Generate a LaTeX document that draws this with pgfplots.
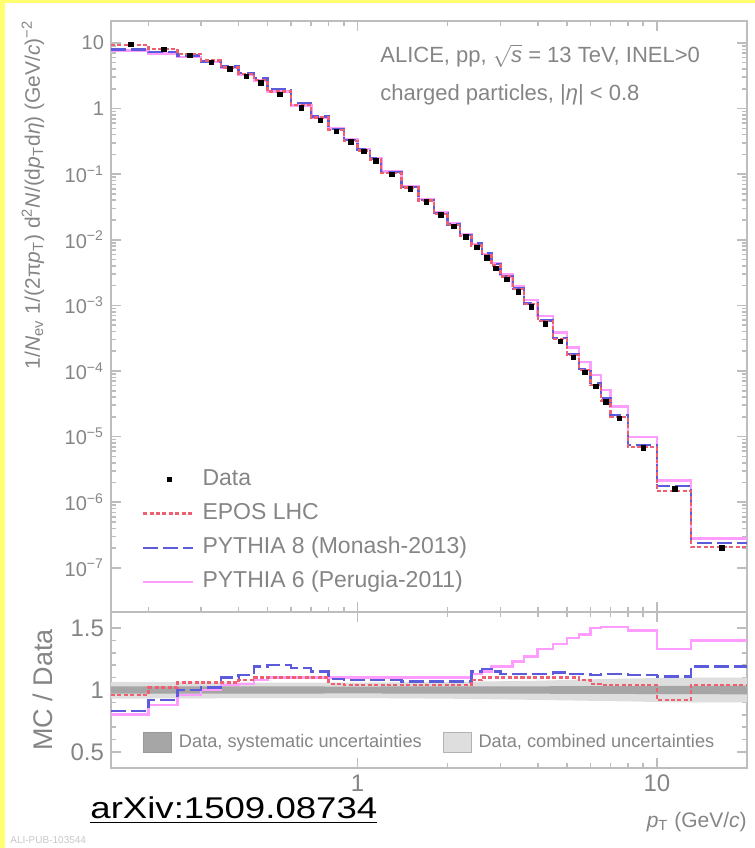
\documentclass[border=0pt]{standalone}
\usepackage{fontspec}
\setmainfont{Liberation Sans}
\usepackage{graphicx}
\usepackage{pgfplots}
\pgfplotsset{compat=1.18}
\usepackage{pgfplotstable}

\definecolor{txt}{HTML}{858585}
\definecolor{axc}{HTML}{BDBDBD}
\definecolor{eposc}{HTML}{EE6070}
\definecolor{py8c}{HTML}{5B5BDB}
\definecolor{py6c}{HTML}{FF9CFF}
\definecolor{sysg}{HTML}{A6A6A6}
\definecolor{comg}{HTML}{DEDEDE}
\definecolor{yel}{HTML}{FFFF70}

\pgfplotsset{
  linelegend/.style={legend image code/.code={\draw[##1] (0pt,0pt) -- (25pt,0pt);}},
  marklegend/.style={legend image code/.code={\draw[mark repeat=2,mark phase=2,##1] plot coordinates {(0pt,0pt)(13pt,0pt)(26pt,0pt)};}},
  boxlegend/.style={legend image code/.code={\draw[##1] (0pt,-5pt) rectangle (14pt,5pt);}},
}

\pgfplotstableread{
lo pc D p6 p8 ep r6 r8 re
0.15 0.175 9.6 7.68 7.97 9.22 0.80 0.83 0.96
0.2 0.225 7.9 6.95 7.27 8.06 0.88 0.92 1.02
0.25 0.275 6.4 6.14 6.40 6.78 0.96 1.00 1.06
0.3 0.325 5.1 5.10 5.20 5.41 1.00 1.02 1.06
0.35 0.375 4.0 4.16 4.40 4.24 1.04 1.10 1.06
0.4 0.425 3.1 3.26 3.47 3.35 1.05 1.12 1.08
0.45 0.475 2.45 2.65 2.92 2.70 1.08 1.19 1.10
0.5 0.55 1.65 1.815 1.98 1.815 1.10 1.20 1.10
0.6 0.65 1.02 1.122 1.204 1.122 1.10 1.18 1.10
0.7 0.75 0.66 0.726 0.759 0.726 1.10 1.15 1.10
0.8 0.85 0.45 0.495 0.4905 0.4725 1.10 1.09 1.05
0.9 0.95 0.31 0.341 0.3348 0.3224 1.10 1.08 1.04
1.0 1.05 0.22 0.242 0.2376 0.2288 1.10 1.08 1.04
1.1 1.15 0.16 0.176 0.1728 0.1664 1.10 1.08 1.04
1.2 1.3 0.10 0.110 0.108 0.104 1.10 1.08 1.04
1.4 1.5 0.060 0.066 0.0642 0.0624 1.10 1.07 1.04
1.6 1.7 0.038 0.0418 0.04066 0.03952 1.10 1.07 1.04
1.8 1.9 0.024 0.0264 0.02568 0.02496 1.10 1.07 1.04
2.0 2.1 0.016 0.0176 0.01712 0.01664 1.10 1.07 1.04
2.2 2.3 0.011 0.0121 0.01177 0.01144 1.10 1.07 1.04
2.4 2.5 0.0076 0.00859 0.00874 0.00821 1.13 1.15 1.08
2.6 2.7 0.0053 0.00610 0.0062 0.00583 1.15 1.17 1.10
2.8 2.9 0.0037 0.00440 0.004255 0.00407 1.19 1.15 1.10
3.0 3.15 0.0025 0.00298 0.002825 0.00275 1.19 1.13 1.10
3.3 3.45 0.0016 0.00197 0.001808 0.00176 1.23 1.13 1.10
3.6 3.8 0.00095 0.00121 0.0010735 0.001045 1.27 1.13 1.10
4.0 4.25 0.00052 0.000692 0.0005876 0.000572 1.33 1.13 1.10
4.5 4.75 0.00028 0.000384 0.0003192 0.000308 1.37 1.14 1.10
5.0 5.25 0.00016 0.000227 0.0001808 0.000176 1.42 1.13 1.10
5.5 5.75 9.5e-5 1.38e-4 1.0735e-4 1.026e-4 1.45 1.13 1.08
6.0 6.25 5.8e-5 8.7e-5 6.5e-5 6.09e-5 1.50 1.12 1.05
6.5 6.75 3.4e-5 5.13e-5 3.84e-5 3.54e-5 1.51 1.13 1.04
7.0 7.5 1.9e-5 2.87e-5 2.15e-5 1.98e-5 1.51 1.13 1.04
8.0 9.0 6.7e-6 9.9e-6 7.5e-6 6.97e-6 1.48 1.12 1.04
10 11.5 1.6e-6 2.13e-6 1.78e-6 1.47e-6 1.33 1.11 0.92
13 16.5 2.0e-7 2.8e-7 2.38e-7 2.08e-7 1.40 1.19 1.04
20 nan nan 2.8e-7 2.38e-7 2.08e-7 1.40 1.19 1.04
}\spec

\begin{document}
\begin{tikzpicture}
\useasboundingbox (0,0) rectangle (377.5pt,424pt);
\fill[yel] (0,0) rectangle (2.5pt,424pt);
\fill[yel] (0,422.5pt) rectangle (377.5pt,424pt);

% ---------- upper panel ----------
\begin{axis}[
  scale only axis, width=318pt, height=295.5pt,
  at={(55.5pt,118pt)}, anchor=south west,
  xmode=log, xmin=0.15, xmax=20,
  ymode=log, ymin=2.12e-8, ymax=21.6,
  axis line style={axc, line width=1pt},
  tick style={axc, line width=0.8pt},
  major tick length=5pt, minor tick length=2.5pt,
  tick align=inside,
  xticklabel=\empty,
  ytick={1e-7,1e-6,1e-5,1e-4,1e-3,1e-2,1e-1,1,10},
  yticklabels={10\textsuperscript{−7},10\textsuperscript{−6},10\textsuperscript{−5},10\textsuperscript{−4},10\textsuperscript{−3},10\textsuperscript{−2},10\textsuperscript{−1},1,10},
  yticklabel style={font=\fontsize{10}{12}\selectfont, text=txt},
  reverse legend, legend cell align=left,
  linelegend,
  legend style={at={(0.048,0.248)}, anchor=north west, draw=none, fill=none,
    inner sep=0pt, row sep=3.5pt, font=\fontsize{11.5}{13}\selectfont,
    nodes={text=txt, inner sep=1.5pt, text height=8.2pt, text depth=2.4pt},
    /tikz/every odd column/.append style={column sep=2.5pt}},
]
\addplot[py6c, line width=1.3pt, const plot] table[x=lo,y=p6]{\spec};
\addlegendentry{PYTHIA 6 (Perugia-2011)}
\addplot[py8c, line width=1.2pt, dash pattern=on 7.5pt off 2.5pt, const plot] table[x=lo,y=p8]{\spec};
\addlegendentry{PYTHIA 8 (Monash-2013)}
\addplot[eposc, line width=1.2pt, dash pattern=on 2pt off 1.2pt, const plot] table[x=lo,y=ep]{\spec};
\addlegendentry{EPOS LHC}
\addplot[black, only marks, mark=square*, mark size=1.1pt, marklegend]
  table[x=pc,y=D]{\spec};
\addlegendentry{Data}
\end{axis}

% ---------- ratio panel ----------
\begin{axis}[
  scale only axis, width=318pt, height=78pt,
  at={(55.5pt,40pt)}, anchor=south west,
  xmode=log, xmin=0.15, xmax=20,
  ymin=0.37, ymax=1.63,
  axis line style={axc, line width=1pt},
  tick style={axc, line width=0.8pt},
  major tick length=5pt, minor tick length=2.5pt,
  tick align=inside,
  ytick={0.5,1,1.5}, yticklabels={0.5,1,1.5}, minor y tick num=4,
  xtick={1,10}, xticklabels={1,10},
  ticklabel style={font=\fontsize{12}{14}\selectfont, text=txt},
  legend columns=2,
  boxlegend,
  legend style={at={(0.05,0.167)}, anchor=west, draw=none, fill=none,
    inner sep=0pt, font=\fontsize{9.1}{11}\selectfont,
    nodes={text=txt, inner sep=1pt},
    /tikz/every odd column/.append style={column sep=2.5pt},
    /tikz/every even column/.append style={column sep=9.5pt}},
]
\addplot[fill=comg, draw=none, forget plot] coordinates {(0.15,1.065) (0.5,1.06) (1,1.06) (2,1.065) (4,1.075) (7,1.09) (12,1.10) (20,1.10) (20,0.90) (12,0.90) (7,0.91) (4,0.92) (2,0.93) (1,0.935) (0.5,0.935) (0.15,0.93)} -- cycle;
\addplot[fill=sysg, draw=none, forget plot] coordinates {(0.15,1.03) (1,1.028) (4,1.03) (20,1.035) (20,0.965) (4,0.97) (1,0.972) (0.15,0.97)} -- cycle;
\addplot[py6c, line width=1.3pt, const plot, forget plot] table[x=lo,y=r6]{\spec};
\addplot[py8c, line width=1.2pt, dash pattern=on 7.5pt off 2.5pt, const plot, forget plot] table[x=lo,y=r8]{\spec};
\addplot[eposc, line width=1.2pt, dash pattern=on 2pt off 1.2pt, const plot, forget plot] table[x=lo,y=re]{\spec};
\addlegendimage{fill=sysg, draw=black!40}
\addlegendentry{Data, systematic uncertainties}
\addlegendimage{fill=comg, draw=black!30}
\addlegendentry{Data, combined uncertainties}
\end{axis}

% ---------- texts ----------
\node[anchor=west, text=txt, font=\fontsize{11}{13}\selectfont, inner sep=0pt] at (190pt,396pt)
  {ALICE, pp, $\sqrt{\textit{s}}$ = 13 TeV, INEL>0};
\node[anchor=west, text=txt, font=\fontsize{11}{13}\selectfont, inner sep=0pt] at (190pt,376.5pt)
  {charged particles, |\textit{η}| < 0.8};
\node[rotate=90, anchor=east, text=txt, font=\fontsize{10.5}{12}\selectfont, inner sep=0pt] at (16.5pt,414pt)
  {1/\textit{N}\textsubscript{ev} 1/(2π\textit{p}\textsubscript{T}) d\textsuperscript{2}\textit{N}/(d\textit{p}\textsubscript{T}d\textit{η}) (GeV/\textit{c})\textsuperscript{−2}};
\node[rotate=90, text=txt, font=\fontsize{13.5}{15}\selectfont, inner sep=0pt] at (21.5pt,79pt) {MC / Data};
\node[anchor=east, text=txt, font=\fontsize{10.5}{12}\selectfont, inner sep=0pt] at (373.5pt,13pt)
  {\textit{p}\textsubscript{T} (GeV/\textit{c})};
\node[anchor=base west, inner sep=0pt, font=\fontsize{15}{18}\selectfont] at (45pt,14.5pt)
  {\scalebox{1.22}[1]{\underline{arXiv:1509.08734}}};
\node[anchor=west, text=black!22, font=\fontsize{5}{6}\selectfont, inner sep=0pt] at (5pt,4pt) {ALI-PUB-103544};
\end{tikzpicture}
\end{document}
